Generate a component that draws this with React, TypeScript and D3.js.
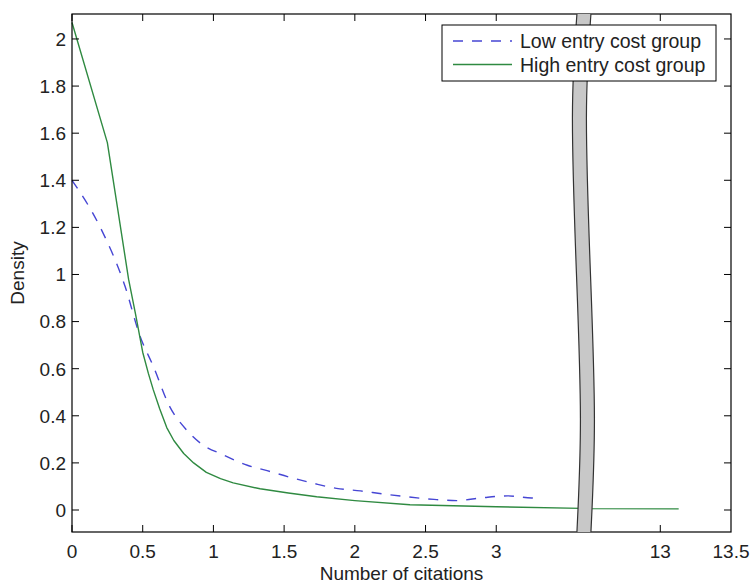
import React, { useRef, useEffect } from "react";
import * as d3 from "d3";

// Kernel density curves (x = citations, y = density)
const LOW_X = [0, 0.2, 0.375, 0.48, 0.575, 0.69, 0.81, 0.91, 1.07, 1.24, 1.38, 1.54, 1.71, 1.87, 2.04, 2.2, 2.37, 2.56, 2.72, 2.9, 3.08, 3.25, 3.3];
const LOW_Y = [1.4, 1.2, 0.95, 0.74, 0.61, 0.44, 0.34, 0.283, 0.234, 0.19, 0.167, 0.139, 0.113, 0.092, 0.081, 0.068, 0.056, 0.045, 0.04, 0.052, 0.06, 0.051, 0.05];

const HIGH_X = [0, 0.25, 0.32, 0.4, 0.45, 0.5, 0.54, 0.575, 0.62, 0.67, 0.72, 0.79, 0.86, 0.95, 1.05, 1.14, 1.33, 1.53, 1.73, 2.0, 2.39, 3.0, 3.6, 12.5, 13.13];
const HIGH_Y = [2.07, 1.56, 1.29, 0.98, 0.83, 0.67, 0.58, 0.51, 0.43, 0.35, 0.295, 0.24, 0.2, 0.16, 0.133, 0.115, 0.09, 0.072, 0.056, 0.04, 0.022, 0.014, 0.007, 0.006, 0.005];

const LOW_TICKS = [0, 0.5, 1, 1.5, 2, 2.5, 3];
const HIGH_TICKS = [13, 13.5];
const Y_TICKS = [0, 0.2, 0.4, 0.6, 0.8, 1, 1.2, 1.4, 1.6, 1.8, 2];

const SERIES = ["Low entry cost group", "High entry cost group"];
const COLORS = ["#4646d4", "#2f8a41"];

// axis break sits between these two values
const BREAK_LOW = 3.62;
const BREAK_HIGH = 12.46;

export default function App() {
  const svgRef = useRef(null);

  useEffect(() => {
    const width = 754;
    const height = 584;
    const margin = { top: 14, right: 23, bottom: 52, left: 72 };
    const font = "'Liberation Sans', Arial, sans-serif";

    const svg = d3.select(svgRef.current).attr("width", width).attr("height", height);
    svg.selectAll("*").remove();

    const x0 = margin.left;
    const x1 = width - margin.right;
    const yTop = margin.top;
    const yBot = height - margin.bottom;

    // two linear pieces joined at the break
    const pxPerUnit = (x1 - x0) / (BREAK_LOW + 13.5 - BREAK_HIGH);
    const breakPx = x0 + BREAK_LOW * pxPerUnit;
    const xLow = d3.scaleLinear().domain([0, BREAK_LOW]).range([x0, breakPx]);
    const xHigh = d3.scaleLinear().domain([BREAK_HIGH, 13.5]).range([breakPx, x1]);
    const x = (v) => (v <= BREAK_LOW ? xLow(v) : xHigh(v));

    const y = d3.scaleLinear().domain([-0.0934, 2.106]).range([yBot, yTop]);

    const lowLine = d3
      .line()
      .x((d) => x(d[0]))
      .y((d) => y(d[1]))
      .curve(d3.curveMonotoneX);
    // the high group has a visible kink at 0.25, so keep it piecewise
    const highLine = d3
      .line()
      .x((d) => x(d[0]))
      .y((d) => y(d[1]))
      .curve(d3.curveLinear);

    const lowData = LOW_X.map((v, i) => [v, LOW_Y[i]]);
    const highData = HIGH_X.map((v, i) => [v, HIGH_Y[i]]);

    // curves
    svg
      .append("path")
      .datum(lowData)
      .attr("d", lowLine)
      .attr("fill", "none")
      .attr("stroke", COLORS[0])
      .attr("stroke-width", 1.4)
      .attr("stroke-dasharray", "10,9");

    svg
      .append("path")
      .datum(highData)
      .attr("d", highLine)
      .attr("fill", "none")
      .attr("stroke", COLORS[1])
      .attr("stroke-width", 1.4)
      .attr("stroke-linejoin", "round");

    // frame
    svg
      .append("rect")
      .attr("x", x0)
      .attr("y", yTop)
      .attr("width", x1 - x0)
      .attr("height", yBot - yTop)
      .attr("fill", "none")
      .attr("stroke", "#000")
      .attr("stroke-width", 1.2);

    const tickLen = 7;
    const allX = LOW_TICKS.map((t) => xLow(t)).concat(HIGH_TICKS.map((t) => xHigh(t)));
    const xLabels = LOW_TICKS.concat(HIGH_TICKS);

    const g = svg.append("g").attr("stroke", "#000").attr("stroke-width", 1);
    allX.forEach((px, i) => {
      if (i === allX.length - 1) return;
      g.append("line").attr("x1", px).attr("x2", px).attr("y1", yBot).attr("y2", yBot - tickLen);
      g.append("line").attr("x1", px).attr("x2", px).attr("y1", yTop).attr("y2", yTop + tickLen);
    });
    Y_TICKS.forEach((t) => {
      g.append("line").attr("x1", x0).attr("x2", x0 + tickLen).attr("y1", y(t)).attr("y2", y(t));
      g.append("line").attr("x1", x1).attr("x2", x1 - tickLen).attr("y1", y(t)).attr("y2", y(t));
    });

    svg
      .append("g")
      .selectAll("text")
      .data(xLabels)
      .enter()
      .append("text")
      .attr("x", (d, i) => allX[i])
      .attr("y", yBot + 26)
      .attr("text-anchor", "middle")
      .style("font-family", font)
      .style("font-size", "19px")
      .attr("fill", "#222")
      .text((d) => String(d));

    svg
      .append("g")
      .selectAll("text")
      .data(Y_TICKS)
      .enter()
      .append("text")
      .attr("x", x0 - 6)
      .attr("y", (d) => y(d))
      .attr("dy", "0.36em")
      .attr("text-anchor", "end")
      .style("font-family", font)
      .style("font-size", "19px")
      .attr("fill", "#222")
      .text((d) => String(+d.toFixed(1)));

    // axis titles
    svg
      .append("text")
      .attr("x", (x0 + x1) / 2)
      .attr("y", height - 4)
      .attr("text-anchor", "middle")
      .style("font-family", font)
      .style("font-size", "19px")
      .attr("fill", "#222")
      .text("Number of citations");

    svg
      .append("text")
      .attr("transform", `translate(24, ${(yTop + yBot) / 2}) rotate(-90)`)
      .attr("text-anchor", "middle")
      .style("font-family", font)
      .style("font-size", "19px")
      .attr("fill", "#222")
      .text("Density");

    // wavy break strip
    const wave = [[0, 0], [0.2, -4.5], [0.5, -0.5], [0.78, 3.5], [1, 0]];
    const halfW = 7;
    const edge = d3.line().curve(d3.curveNatural);
    const leftPts = wave.map(([f, dx]) => [breakPx + dx - halfW, yTop + f * (yBot - yTop)]);
    const rightPts = wave.map(([f, dx]) => [breakPx + dx + halfW, yTop + f * (yBot - yTop)]);
    const leftD = edge(leftPts);
    const rightRevD = edge(rightPts.slice().reverse());

    svg
      .append("path")
      .attr("d", leftD + "L" + rightRevD.slice(1) + "Z")
      .attr("fill", "#c8c8c8")
      .attr("stroke", "none");
    svg
      .append("path")
      .attr("d", leftD)
      .attr("fill", "none")
      .attr("stroke", "#333")
      .attr("stroke-width", 1.2);
    svg
      .append("path")
      .attr("d", edge(rightPts))
      .attr("fill", "none")
      .attr("stroke", "#333")
      .attr("stroke-width", 1.2);

    // legend
    const lg = svg.append("g").attr("transform", "translate(442, 25)");
    lg.append("rect")
      .attr("width", 274)
      .attr("height", 56)
      .attr("fill", "#fff")
      .attr("stroke", "#000")
      .attr("stroke-width", 1);
    SERIES.forEach((name, i) => {
      const ly = 16 + i * 23.5;
      lg.append("line")
        .attr("x1", 11)
        .attr("x2", 70)
        .attr("y1", ly)
        .attr("y2", ly)
        .attr("stroke", COLORS[i])
        .attr("stroke-width", 1.4)
        .attr("stroke-dasharray", i === 0 ? "10,9" : null);
      lg.append("text")
        .attr("x", 78)
        .attr("y", ly)
        .attr("dy", "0.36em")
        .style("font-family", font)
        .style("font-size", "19.5px")
        .attr("fill", "#222")
        .text(name);
    });
  }, []);

  return <svg ref={svgRef} style={{ position: "absolute", left: 0, top: 0 }}></svg>;
}
